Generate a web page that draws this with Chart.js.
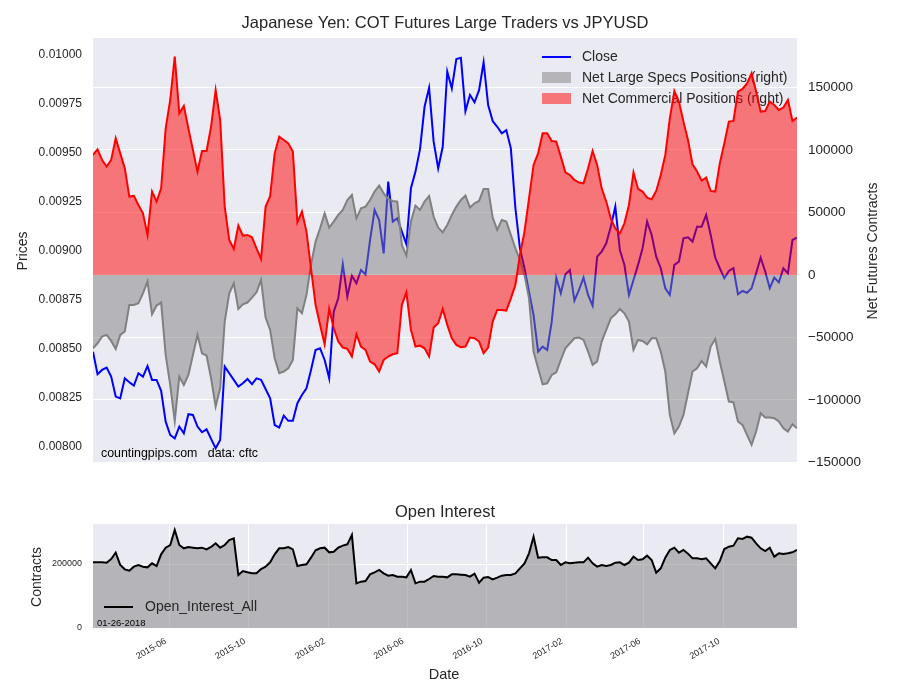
<!DOCTYPE html>
<html>
<head>
<meta charset="utf-8">
<script src="https://cdn.jsdelivr.net/npm/chart.js@4.4.0/dist/chart.umd.min.js"></script>
<style>
	html, body { margin: 0; padding: 0; background: #ffffff; }
	#wrap { position: relative; width: 900px; height: 700px; }
	#topChart { position: absolute; left: 0; top: 0; }
	#bottomChart { position: absolute; left: 0; top: 480px; }
</style>
</head>
<body>
<div id="wrap">
	<canvas id="topChart" width="900" height="480"></canvas>
	<canvas id="bottomChart" width="900" height="220"></canvas>
</div>
<script>
// weekly COT report dates, first one 2015-02-03
const startDate = Date.UTC(2015, 1, 3);
const DAY_MS = 86400000;

// JPYUSD close
const closePrices = [
	0.008486, 0.008371, 0.008393, 0.008405, 0.008359, 0.008257, 0.008248, 0.008350, 0.008330, 0.008313,
	0.008376, 0.008359, 0.008413, 0.008342, 0.008342, 0.008286, 0.008129, 0.008061, 0.008044, 0.008104,
	0.008070, 0.008167, 0.008163, 0.008104, 0.008075, 0.008090, 0.008041, 0.007993, 0.008036, 0.008410,
	0.008376, 0.008342, 0.008308, 0.008325, 0.008347, 0.008320, 0.008350, 0.008342, 0.008296, 0.008248,
	0.008112, 0.008099, 0.008160, 0.008133, 0.008133, 0.008223, 0.008265, 0.008299, 0.008393, 0.008495,
	0.008503, 0.008444, 0.008350, 0.008690, 0.008759, 0.008932, 0.008767, 0.008874, 0.008835, 0.008903,
	0.008881, 0.009056, 0.009209, 0.009158, 0.008988, 0.009354, 0.009150, 0.009167, 0.009099, 0.009034,
	0.009320, 0.009405, 0.009520, 0.009736, 0.009833, 0.009558, 0.009422, 0.009532, 0.009915, 0.009830,
	0.009980, 0.009986, 0.009714, 0.009796, 0.009759, 0.009821, 0.009963, 0.009745, 0.009663, 0.009634,
	0.009600, 0.009617, 0.009524, 0.009218, 0.009014, 0.008912, 0.008792, 0.008673, 0.008486, 0.008512,
	0.008495, 0.008639, 0.008864, 0.008784, 0.008881, 0.008903, 0.008747, 0.008801, 0.008864, 0.008776,
	0.008721, 0.008971, 0.008997, 0.009039, 0.009124, 0.009226, 0.009005, 0.008929, 0.008776, 0.008852,
	0.008929, 0.009014, 0.009150, 0.009082, 0.008971, 0.008912, 0.008810, 0.008776, 0.008929, 0.008946,
	0.009065, 0.009070, 0.009048, 0.009124, 0.009124, 0.009184, 0.009082, 0.008966, 0.008912, 0.008861,
	0.008898, 0.008912, 0.008779, 0.008796, 0.008787, 0.008810, 0.008886, 0.008966, 0.008895, 0.008810,
	0.008864, 0.008840, 0.008912, 0.008886, 0.009056, 0.009068
];

// net large speculator positions (right axis)
const netLargeSpecs = [
	-58700, -54700, -49300, -48000, -52800, -59200, -48000, -45300, -24000, -24000,
	-22700, -14700, -5300, -31500, -24500, -22100, -64000, -88000, -116800, -81300,
	-88000, -80000, -64000, -48000, -62700, -64500, -82700, -105300, -90700, -37300,
	-14700, -6700, -27200, -23500, -22100, -18100, -13900, -4000, -34100, -44000,
	-66700, -78700, -77300, -74700, -68000, -26700, -30700, -16000, 8000, 26700,
	37300, 49300, 37900, 42700, 48000, 52000, 60000, 64000, 45300, 53300,
	54700, 60000, 66700, 71500, 65300, 60800, 59200, 58700, 24000, 15500,
	42700, 55500, 52000, 58700, 63200, 46700, 37900, 34100, 40000, 48000,
	54700, 60000, 63500, 53900, 57300, 59200, 68800, 68800, 45900, 36000,
	44000, 42700, 32000, 21300, 12000, 0, -18700, -61300, -74700, -87500,
	-86700, -80000, -77900, -68000, -58700, -54700, -50700, -50100, -52000, -61300,
	-72000, -69300, -53300, -44000, -34700, -31500, -27200, -30700, -37300, -60000,
	-52000, -52800, -55500, -50700, -50700, -61300, -77300, -112000, -126700, -121300,
	-112000, -94700, -77300, -74700, -68800, -73300, -57300, -51200, -69300, -85300,
	-101300, -101900, -117300, -120000, -128000, -136000, -125300, -110700, -114100, -114100,
	-114700, -117300, -122700, -125300, -119500, -122700
];

// net commercial positions (right axis)
const netCommercial = [
	96000, 100500, 92000, 86700, 92000, 109300, 97300, 85300, 62700, 63200,
	56000, 49300, 32000, 66700, 58700, 69300, 117300, 140000, 174700, 129300,
	135200, 117300, 100000, 82700, 99200, 99200, 118700, 148000, 124000, 54700,
	28000, 20800, 39500, 31500, 32000, 30100, 21300, 12800, 54700, 63000,
	97300, 110700, 108000, 105300, 98700, 42100, 50700, 34700, 5300, -24000,
	-40000, -55500, -27200, -42700, -53300, -58100, -59200, -65300, -47500, -57300,
	-60000, -69300, -71500, -77300, -68000, -65300, -63500, -62700, -24000, -13900,
	-44000, -57300, -56500, -58700, -65300, -42100, -38700, -27200, -40000, -50700,
	-56000, -57900, -57300, -50100, -50700, -53300, -62700, -58100, -37300, -28000,
	-28000, -28500, -18700, -8000, 16000, 34700, 61300, 88000, 97300, 113300,
	113300, 107200, 106700, 94700, 82100, 80000, 76000, 73900, 73300, 85300,
	99200, 88000, 69300, 58700, 45300, 37300, 33300, 41300, 56000, 82100,
	68800, 66700, 61900, 60500, 67200, 80000, 96000, 125300, 147200, 138700,
	122700, 108000, 88500, 82700, 75500, 77900, 67200, 66700, 89300, 105300,
	122700, 123200, 146700, 148800, 153300, 161300, 146700, 130700, 131200, 138700,
	136000, 132000, 133900, 140000, 123200, 125900
];

// total open interest
const openInterest = [
	205200, 205200, 205200, 204200, 215600, 235400, 196900, 183300, 179200, 191700,
	196900, 191700, 189600, 202100, 193700, 230200, 251000, 259400, 306200, 259400,
	249000, 253100, 251000, 249000, 251000, 245800, 253100, 264600, 251000, 259400,
	275000, 280200, 165600, 178100, 174000, 170800, 170800, 184400, 191700, 205200,
	230200, 249000, 249000, 253100, 245800, 193700, 196900, 199000, 219800, 242700,
	249000, 251000, 236500, 238500, 251000, 257300, 261500, 290600, 139600, 144800,
	146900, 167700, 174000, 181300, 170800, 163500, 165600, 160400, 160400, 158300,
	181300, 139600, 144800, 144800, 153100, 162500, 160400, 160400, 158300, 167700,
	167700, 166700, 165600, 160400, 169800, 141700, 157300, 159400, 152100, 157300,
	163500, 165600, 165600, 170800, 186500, 202100, 233300, 285400, 219800, 220800,
	220800, 212500, 212500, 196900, 205200, 202100, 204200, 205200, 205200, 219800,
	202100, 191700, 196900, 193700, 196900, 204200, 205200, 196900, 204200, 222900,
	212500, 214600, 226000, 212500, 172900, 186500, 219800, 243800, 251000, 235400,
	243800, 232300, 217700, 217700, 214600, 217700, 202100, 186500, 209400, 246900,
	254200, 257300, 280200, 278100, 285400, 282300, 264600, 249000, 240600, 251000,
	222900, 233300, 231300, 233300, 236500, 243800
];

const monthTicks = ['2015-06', '2015-10', '2016-02', '2016-06', '2016-10', '2017-02', '2017-06', '2017-10'];
const priceTicks = [0.008, 0.00825, 0.0085, 0.00875, 0.009, 0.00925, 0.0095, 0.00975, 0.01];
const contractTicks = [-150000, -100000, -50000, 0, 50000, 100000, 150000];
const oiTicks = [0, 200000];

const FONT = '"Liberation Sans", Arial, Helvetica, sans-serif';
const TEXT = '#262626';
Chart.defaults.font.family = FONT;
Chart.defaults.color = TEXT;

const dayOffsets = closePrices.map((_, i) => i * 7);
const lastDay = dayOffsets[dayOffsets.length - 1];

function toPoints(values) {
	return values.map((v, i) => ({ x: dayOffsets[i], y: v }));
}

function monthOffset(label) {
	const [y, m] = label.split('-').map(Number);
	return (Date.UTC(y, m - 1, 1) - startDate) / DAY_MS;
}

function drawText(ctx, text, x, y, size, opts = {}) {
	ctx.save();
	ctx.font = size + 'px ' + FONT;
	ctx.fillStyle = opts.color || TEXT;
	ctx.textAlign = opts.align || 'center';
	ctx.textBaseline = 'middle';
	ctx.translate(x, y);
	if (opts.rotate) ctx.rotate(opts.rotate);
	ctx.fillText(text, 0, 0);
	ctx.restore();
}

// fixed axis width, no extra room for the end labels
function fixWidth(width) {
	return s => {
		s.width = width;
		s.paddingTop = 0;
		s.paddingBottom = 0;
	};
}

// seaborn-like grey plot background
const plotBackground = {
	id: 'plotBackground',
	beforeDraw(chart) {
		const { ctx, chartArea: a } = chart;
		ctx.save();
		ctx.fillStyle = '#EAEAF2';
		ctx.fillRect(a.left, a.top, a.right - a.left, a.bottom - a.top);
		ctx.restore();
	}
};

const topAnnotations = {
	id: 'topAnnotations',
	beforeDatasetsDraw(chart) {
		const ctx = chart.ctx;
		// legend sits under the datasets, like in the original
		ctx.save();
		ctx.strokeStyle = '#0000ff';
		ctx.lineWidth = 2;
		ctx.beginPath();
		ctx.moveTo(542, 57);
		ctx.lineTo(571, 57);
		ctx.stroke();
		ctx.fillStyle = 'rgba(128,128,128,0.5)';
		ctx.fillRect(542, 72, 29, 11);
		ctx.fillStyle = 'rgba(255,0,0,0.5)';
		ctx.fillRect(542, 93, 29, 11);
		ctx.restore();
		drawText(ctx, 'Close', 582, 57, 14, { align: 'left' });
		drawText(ctx, 'Net Large Specs Positions (right)', 582, 78, 14, { align: 'left' });
		drawText(ctx, 'Net Commercial Positions (right)', 582, 99, 14, { align: 'left' });
		drawText(ctx, 'countingpips.com   data: cftc', 101, 454, 12.4, { align: 'left', color: '#000000' });
	},
	afterDraw(chart) {
		const ctx = chart.ctx;
		drawText(ctx, 'Japanese Yen: COT Futures Large Traders vs JPYUSD', 445, 23, 16.5);
		drawText(ctx, 'Prices', 23, 251, 14, { rotate: -Math.PI / 2 });
		drawText(ctx, 'Net Futures Contracts', 873, 251, 14, { rotate: -Math.PI / 2 });
	}
};

const bottomAnnotations = {
	id: 'bottomAnnotations',
	afterDatasetsDraw(chart) {
		const ctx = chart.ctx;
		ctx.save();
		ctx.strokeStyle = '#000000';
		ctx.lineWidth = 2;
		ctx.beginPath();
		ctx.moveTo(104, 127);
		ctx.lineTo(133, 127);
		ctx.stroke();
		ctx.restore();
		drawText(ctx, 'Open_Interest_All', 145, 127, 14, { align: 'left' });
		drawText(ctx, '01-26-2018', 97, 143, 9.5, { align: 'left', color: '#000000' });
	},
	afterDraw(chart) {
		const ctx = chart.ctx;
		drawText(ctx, 'Open Interest', 445, 32, 16.5);
		drawText(ctx, 'Contracts', 37, 97, 14, { rotate: -Math.PI / 2 });
		drawText(ctx, 'Date', 444, 195, 14.5);
	}
};

function buildTopChart() {
	const ctx = document.getElementById('topChart').getContext('2d');
	return new Chart(ctx, {
		type: 'line',
		data: {
			datasets: [{
				label: 'Close',
				data: toPoints(closePrices),
				yAxisID: 'yPrice',
				borderColor: '#0000ff',
				borderWidth: 2,
				pointRadius: 0,
				fill: false,
				order: 3
			}, {
				label: 'Net Large Specs Positions (right)',
				data: toPoints(netLargeSpecs),
				yAxisID: 'yNet',
				borderColor: '#808080',
				backgroundColor: 'rgba(128,128,128,0.5)',
				borderWidth: 2,
				pointRadius: 0,
				fill: 'origin',
				order: 2
			}, {
				label: 'Net Commercial Positions (right)',
				data: toPoints(netCommercial),
				yAxisID: 'yNet',
				borderColor: '#ff0000',
				backgroundColor: 'rgba(255,0,0,0.5)',
				borderWidth: 2,
				pointRadius: 0,
				fill: 'origin',
				order: 1
			}]
		},
		options: {
			responsive: false,
			animation: false,
			layout: { padding: { top: 38, bottom: 17, left: 0, right: 0 } },
			elements: { line: { tension: 0 } },
			plugins: {
				legend: { display: false },
				tooltip: { enabled: false }
			},
			scales: {
				x: { type: 'linear', min: 0, max: lastDay, display: false },
				yPrice: {
					position: 'left',
					min: 0.007918,
					max: 0.010087,
					grid: { display: false, drawTicks: false },
					border: { display: false },
					ticks: { padding: 11, font: { size: 12 }, callback: v => v.toFixed(5) },
					afterBuildTicks: s => { s.ticks = priceTicks.map(v => ({ value: v })); },
					afterFit: fixWidth(93)
				},
				yNet: {
					position: 'right',
					min: -150500,
					max: 189600,
					grid: { color: '#ffffff', lineWidth: 1, drawTicks: false },
					border: { display: false },
					ticks: {
						padding: 11,
						font: { size: 13.5 },
						callback: v => v < 0 ? '\u2212' + Math.abs(v) : String(v)
					},
					afterBuildTicks: s => { s.ticks = contractTicks.map(v => ({ value: v })); },
					afterFit: fixWidth(103)
				}
			}
		},
		plugins: [plotBackground, topAnnotations]
	});
}

function buildBottomChart() {
	const ctx = document.getElementById('bottomChart').getContext('2d');
	return new Chart(ctx, {
		type: 'line',
		data: {
			datasets: [{
				label: 'Open_Interest_All',
				data: toPoints(openInterest),
				borderColor: '#000000',
				backgroundColor: 'rgba(128,128,128,0.5)',
				borderWidth: 2,
				pointRadius: 0,
				fill: 'origin'
			}]
		},
		options: {
			responsive: false,
			animation: false,
			layout: { padding: { top: 44, bottom: 0, left: 0, right: 103 } },
			elements: { line: { tension: 0 } },
			plugins: {
				legend: { display: false },
				tooltip: { enabled: false }
			},
			scales: {
				x: {
					type: 'linear',
					min: 0,
					max: lastDay,
					grid: { color: '#ffffff', drawTicks: false },
					border: { display: false },
					ticks: {
						autoSkip: false,
						minRotation: 30,
						maxRotation: 30,
						padding: 8,
						labelOffset: -4,
						font: { size: 9 },
						callback: (v, i) => monthTicks[i]
					},
					afterBuildTicks: s => { s.ticks = monthTicks.map(m => ({ value: monthOffset(m) })); },
					afterFit: s => { s.height = 72; }
				},
				y: {
					min: 0,
					max: 325000,
					grid: { color: '#ffffff', drawTicks: false },
					border: { display: false },
					ticks: { padding: 11, font: { size: 9 }, callback: v => String(v) },
					afterBuildTicks: s => { s.ticks = oiTicks.map(v => ({ value: v })); },
					afterFit: fixWidth(93)
				}
			}
		},
		plugins: [plotBackground, bottomAnnotations]
	});
}

buildTopChart();
buildBottomChart();
</script>
</body>
</html>
